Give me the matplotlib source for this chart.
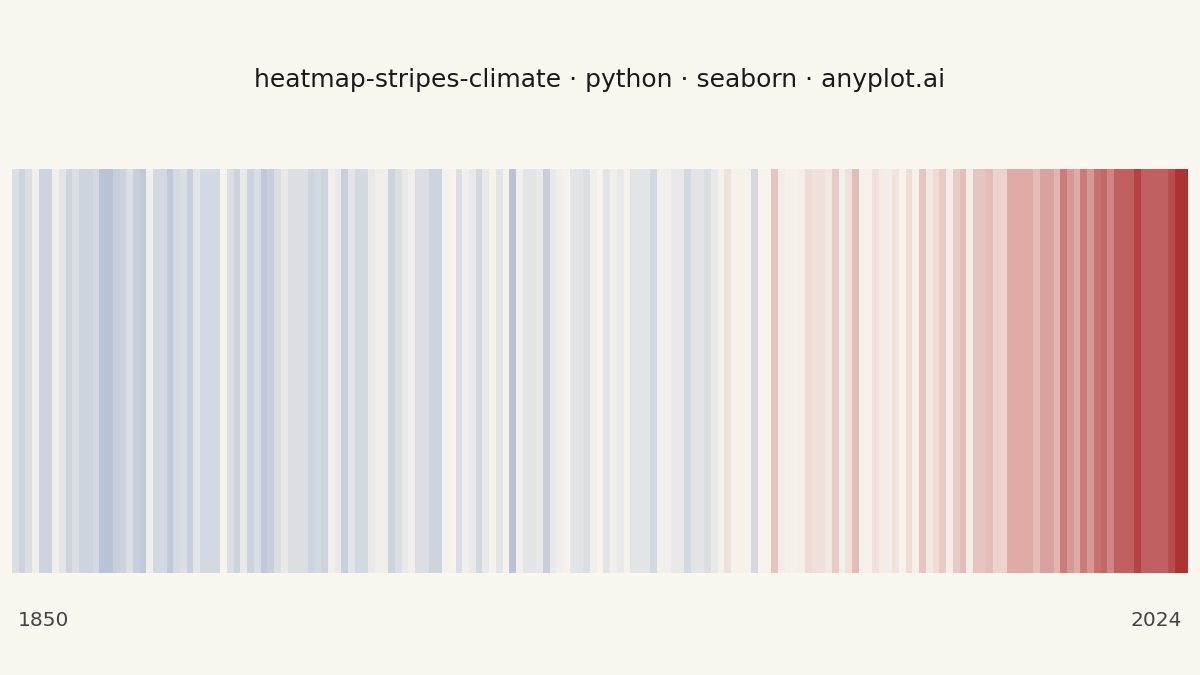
import numpy as np
import matplotlib
matplotlib.use("Agg")
import matplotlib.pyplot as plt
from matplotlib.colors import LinearSegmentedColormap, Normalize

years = np.arange(1850, 2025)
anomaly = [
 -0.2,-0.3,-0.2,-0.05,-0.3,-0.3,-0.05,-0.15,-0.3,-0.2,
 -0.3,-0.3,-0.25,-0.45,-0.45,-0.35,-0.3,-0.2,-0.35,-0.4,
 -0.05,-0.25,-0.25,-0.4,-0.25,-0.2,-0.35,-0.15,-0.25,-0.25,
 -0.25,0.0,-0.2,-0.3,-0.1,-0.3,-0.2,-0.4,-0.35,-0.2,
 -0.1,-0.2,-0.2,-0.2,-0.3,-0.25,-0.3,-0.05,-0.1,-0.35,
 -0.15,-0.25,-0.25,-0.1,-0.05,-0.05,-0.3,-0.2,-0.1,-0.05,
 -0.2,-0.2,-0.3,-0.3,-0.02,0.0,-0.2,-0.05,-0.1,-0.25,
 -0.1,0.02,-0.15,0.02,-0.45,-0.05,-0.15,-0.15,-0.1,-0.35,
 -0.1,-0.05,0.02,-0.15,-0.15,-0.2,-0.05,0.0,-0.15,-0.05,
 -0.1,0.02,-0.15,-0.15,-0.15,-0.25,-0.05,-0.05,-0.1,-0.1,
 -0.25,-0.15,-0.15,-0.2,-0.1,-0.02,0.12,0.02,0.02,0.02,
 -0.25,0.0,0.0,0.3,0.05,0.02,0.02,0.03,0.15,0.12,
 0.12,0.08,0.25,-0.05,0.12,0.35,0.02,0.02,0.12,0.05,
 -0.05,0.1,0.02,0.15,0.03,0.3,0.08,0.15,0.25,0.05,
 0.25,0.35,0.05,0.3,0.3,0.35,0.2,0.2,0.45,0.45,
 0.45,0.45,0.35,0.5,0.5,0.4,0.7,0.55,0.45,0.7,
 0.55,0.75,0.8,0.65,0.85,0.85,0.85,1.0,0.85,0.85,
 0.85,0.85,0.95,1.1,1.1,
]
anomaly = np.array(anomaly)

vmax = 1.1
anchors = [(-1.1, "#6F88B0"), (-0.45, "#B8C4D6"), (0.0, "#F7F4EE"),
           (0.45, "#DEACA8"), (0.85, "#C06060"), (1.1, "#AE3232")]
cmap = LinearSegmentedColormap.from_list(
    "stripes", [((v + vmax) / (2 * vmax), c) for v, c in anchors])

bg = "#FAF7F1"
fig = plt.figure(figsize=(12, 6.75), dpi=100, facecolor=bg)
ax = fig.add_axes([12/1200, 1 - 573/675, 1176/1200, 404/675])
ax.set_facecolor(bg)
edges = np.arange(len(years) + 1)
ax.pcolormesh(edges, [0, 1], anomaly[np.newaxis, :], cmap=cmap,
              norm=Normalize(-vmax, vmax))
ax.set_xlim(0, len(years))
ax.set_ylim(0, 1)
ax.axis("off")

fig.text(0.5, 1 - 80/675, "heatmap-stripes-climate · python · seaborn · anyplot.ai",
         ha="center", va="center", fontsize=18, color="#1a1a1a")
fig.text(18/1200, 1 - 621/675, str(years[0]), ha="left", va="center",
         fontsize=14.5, color="#444444")
fig.text(1182/1200, 1 - 621/675, str(years[-1]), ha="right", va="center",
         fontsize=14.5, color="#444444")

fig.savefig("out.png", dpi=100, facecolor=bg)
